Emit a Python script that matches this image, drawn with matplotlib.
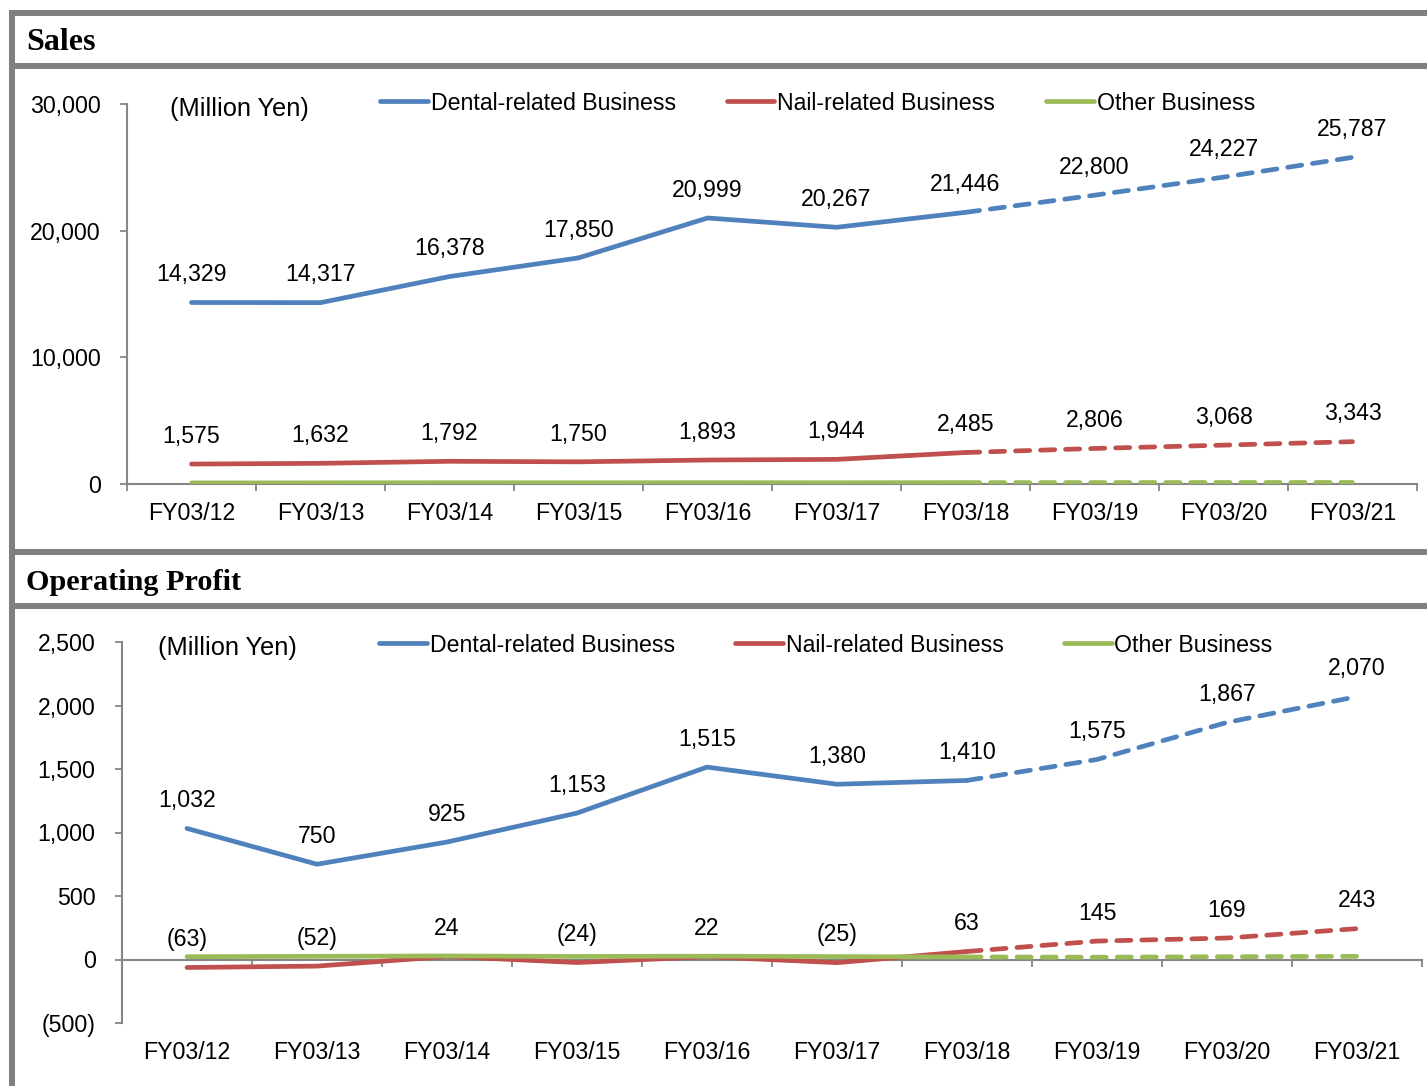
import numpy as np
import matplotlib.pyplot as plt
from matplotlib.patches import Rectangle
from matplotlib.ticker import FuncFormatter

years = ['FY03/12', 'FY03/13', 'FY03/14', 'FY03/15', 'FY03/16',
         'FY03/17', 'FY03/18', 'FY03/19', 'FY03/20', 'FY03/21']
series_names = ['Dental-related Business', 'Nail-related Business', 'Other Business']

# Sales (million yen)
sales_dental = [14329, 14317, 16378, 17850, 20999, 20267, 21446, 22800, 24227, 25787]
sales_nail = [1575, 1632, 1792, 1750, 1893, 1944, 2485, 2806, 3068, 3343]
sales_other = [84, 92, 101, 96, 104, 99, 108, 112, 118, 121]

# Operating profit (million yen)
profit_dental = [1032, 750, 925, 1153, 1515, 1380, 1410, 1575, 1867, 2070]
profit_nail = [-63, -52, 24, -24, 22, -25, 63, 145, 169, 243]
profit_other = [22, 25, 28, 24, 26, 23, 20, 18, 22, 25]

n_actual = 7  # FY03/12 .. FY03/18 are results, the rest are plans
colors = ['#4F81BD', '#C0504D', '#9BBB59']
frame_gray = '#808080'
axis_gray = '#868686'

W, H = 1427, 1086
plt.rcParams['font.family'] = ['Liberation Sans', 'DejaVu Sans']

fig = plt.figure(figsize=(W / 100, H / 100), dpi=100)


def px_rect(x0, y0, x1, y1):
    # pixel box (origin top-left) -> figure fraction [left, bottom, width, height]
    return [x0 / W, 1 - y1 / H, (x1 - x0) / W, (y1 - y0) / H]


def fig_xy(x, y):
    return x / W, 1 - y / H


# panel frames
for box in [(9, 10, W, 16), (9, 10, 15, H), (9, 63, W, 69),
            (9, 549, W, 555), (9, 603, W, 609)]:
    l, b, w, h = px_rect(*box)
    fig.add_artist(Rectangle((l, b), w, h, transform=fig.transFigure,
                             facecolor=frame_gray, edgecolor='none'))

fig.text(*fig_xy(26, 42), 'Sales', fontfamily='Liberation Serif',
         fontweight='bold', fontsize=23, va='center')
fig.text(*fig_xy(26, 582), 'Operating Profit', fontfamily='Liberation Serif',
         fontweight='bold', fontsize=21.8, va='center')


def fmt_num(v):
    return f'{v:,}' if v >= 0 else f'({-v:,})'


def draw_panel(rect, values, ylim, yticks, unit_xy, legend_xy, colspacing, zero_axis):
    ax = fig.add_axes(px_rect(*rect))
    x = np.arange(len(years))
    handles = []
    for i, (vals, col) in enumerate(zip(values, colors)):
        h, = ax.plot(x[:n_actual], vals[:n_actual], color=col, lw=3.4,
                     solid_capstyle='round', label=series_names[i], zorder=3 + i)
        ax.plot(x[n_actual - 1:], vals[n_actual - 1:], color=col, lw=3.4,
                ls=(0, (3.0, 2.3)), dash_capstyle='round', zorder=3 + i)
        handles.append(h)
        if i < 2:
            for xi, v in zip(x, vals):
                ax.annotate(fmt_num(v), (xi, v), xytext=(0, 20),
                            textcoords='offset points', ha='center', va='center',
                            fontsize=16.7)

    ax.set_xlim(-0.5, len(years) - 0.5)
    ax.set_ylim(*ylim)
    ax.set_yticks(yticks)
    ax.yaxis.set_major_formatter(FuncFormatter(lambda v, p: fmt_num(int(v))))
    ax.tick_params(axis='y', direction='out', length=5, width=1.3, color=axis_gray,
                   labelsize=16.7, pad=14)

    for s in ['top', 'right']:
        ax.spines[s].set_visible(False)
    for s in ['left', 'bottom']:
        ax.spines[s].set_color(axis_gray)
        ax.spines[s].set_linewidth(1.5)

    # boundary ticks on the category axis, labels underneath the plot
    ax.set_xticks(np.arange(-0.5, len(years), 1.0))
    ax.tick_params(axis='x', direction='out', length=5, width=1.3, color=axis_gray,
                   labelbottom=False)
    if zero_axis:
        ax.spines['bottom'].set_position(('data', 0))
    lab = ax.secondary_xaxis('bottom')
    lab.set_xticks(x, years)
    lab.spines['bottom'].set_visible(False)
    lab.tick_params(length=0, labelsize=16.7, pad=13)

    fig.text(*fig_xy(*unit_xy), '(Million Yen)', fontsize=18.3, va='center')
    ax.legend(handles=handles, ncol=3, frameon=False, fontsize=16.7,
              loc='center left', bbox_to_anchor=fig_xy(*legend_xy),
              bbox_transform=fig.transFigure, borderpad=0, borderaxespad=0,
              handlelength=2.06, handletextpad=0.12, columnspacing=colspacing)
    return ax


draw_panel((127, 104, 1417, 484), [sales_dental, sales_nail, sales_other],
           (0, 30000), [0, 10000, 20000, 30000], (170, 109), (380, 103), 2.2, False)
draw_panel((122, 642, 1422, 1023), [profit_dental, profit_nail, profit_other],
           (-500, 2500), np.arange(-500, 2501, 500), (158, 648), (379, 645), 2.6, True)

fig.savefig('out.png', dpi=100)
